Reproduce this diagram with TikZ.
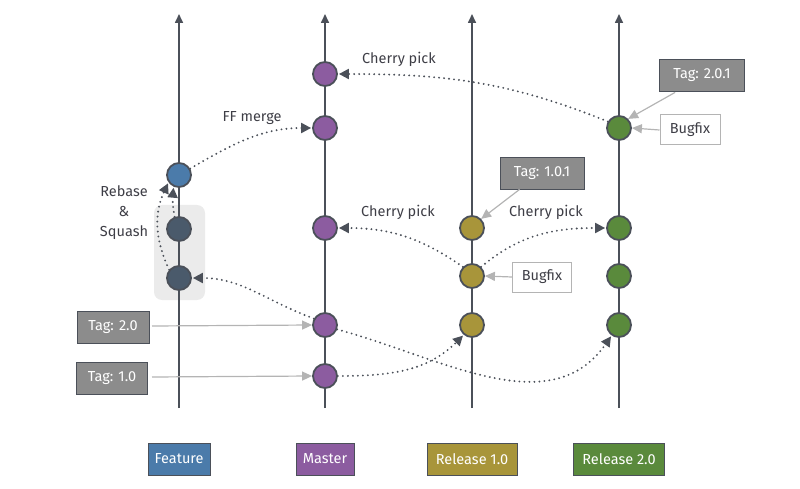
\documentclass[tikz,border=0pt]{standalone}
\usepackage{fontspec}
\setmainfont{Fira Sans}
\usetikzlibrary{arrows.meta}
\definecolor{linec}{HTML}{4B5059}
\definecolor{featc}{HTML}{4B7BAA}
\definecolor{darkc}{HTML}{4A5A6B}
\definecolor{purc}{HTML}{8C5CA0}
\definecolor{olc}{HTML}{A8953A}
\definecolor{grc}{HTML}{5A8A3C}
\definecolor{tagc}{HTML}{8C8C8C}
\definecolor{tagarr}{HTML}{B4B4B4}
\definecolor{txtc}{HTML}{3E3E46}
\tikzset{
  branchline/.style={draw=linec, line width=1.6pt, -{Triangle[length=9pt,width=8pt]}},
  commit/.style={circle, minimum size=24pt, inner sep=0pt, draw=linec, line width=1.8pt},
  blabel/.style={draw=linec, line width=1pt, text=white, minimum height=32pt, inner sep=0pt, font=\fontsize{14.5}{16}\selectfont},
  tagbox/.style={draw=linec, line width=0.8pt, fill=tagc, text=white, minimum height=32pt, inner sep=0pt, font=\fontsize{14.5}{16}\selectfont},
  notebox/.style={draw=tagarr, line width=1pt, fill=white, text=txtc, minimum height=30pt, inner sep=0pt, font=\fontsize{14.5}{16}\selectfont},
  tagarrow/.style={draw=tagarr, line width=1.2pt, -{Triangle[length=10pt,width=9pt]}},
  flow/.style={draw=linec, line width=2.1pt, line cap=round, dash pattern=on 0pt off 5pt, -{Triangle[length=10pt,width=10pt,line cap=butt]}, shorten >=1pt},
  note/.style={text=txtc, font=\fontsize{14.5}{16}\selectfont, inner sep=0pt, align=center},
}
\begin{document}
\begin{tikzpicture}[x=1pt,y=-1pt]
\useasboundingbox (0,0) rectangle (800,489);
% highlight
\fill[black!8, rounded corners=8pt] (154,205) rectangle (205,300);
% branch lines
\coordinate (fb) at (179,408); \coordinate (ft) at (179,14);
\coordinate (mb) at (325,408); \coordinate (mt) at (325,14);
\coordinate (ab) at (472,408); \coordinate (at1) at (472,14);
\coordinate (bb) at (619,408); \coordinate (bt) at (619,14);
\draw[branchline] (fb) -- (ft);
\draw[branchline] (mb) -- (mt);
\draw[branchline] (ab) -- (at1);
\draw[branchline] (bb) -- (bt);
% branch labels
\node[blabel, fill=featc, minimum width=62pt] (lf) at (179,459) {Feature};
\node[blabel, fill=purc, minimum width=58pt] (lm) at (325,459) {Master};
\node[blabel, fill=olc, minimum width=90pt] (la) at (472,459) {Release 1.0};
\node[blabel, fill=grc, minimum width=91pt] (lb) at (619,459) {Release 2.0};
% commits
\node[commit, fill=featc] (f1) at (179,175) {};
\node[commit, fill=darkc] (f2) at (179,229) {};
\node[commit, fill=darkc] (f3) at (179,278) {};
\node[commit, fill=purc] (m1) at (325,74) {};
\node[commit, fill=purc] (m2) at (325,128) {};
\node[commit, fill=purc] (m3) at (325,228) {};
\node[commit, fill=purc] (m4) at (325,325) {};
\node[commit, fill=purc] (m5) at (325,376) {};
\node[commit, fill=olc] (a1) at (472,228) {};
\node[commit, fill=olc] (a2) at (472,276) {};
\node[commit, fill=olc] (a3) at (472,325) {};
\node[commit, fill=grc] (b1) at (619,128) {};
\node[commit, fill=grc] (b2) at (619,228) {};
\node[commit, fill=grc] (b3) at (619,276) {};
\node[commit, fill=grc] (b4) at (619,325) {};
% tags
\node[tagbox, minimum width=72pt] (t20) at (113,327) {Tag: 2.0};
\node[tagbox, minimum width=71pt] (t10) at (112,378) {Tag: 1.0};
\node[tagbox, minimum width=84pt] (t101) at (542,173) {Tag: 1.0.1};
\node[tagbox, minimum width=85pt] (t201) at (702,75) {Tag: 2.0.1};
\node[notebox, minimum width=59pt] (bf1) at (542,277) {Bugfix};
\node[notebox, minimum width=60pt] (bf2) at (690,130) {Bugfix};
\coordinate (t20e) at (152,326);
\coordinate (t10e) at (152,377);
\draw[tagarrow] (t20e) -- (m4.west);
\draw[tagarrow] (t10e) -- (m5.west);
\draw[tagarrow] (t101.south west) ++(20,0) coordinate (t101s) -- (a1.north east);
\draw[tagarrow] (t201.south west) ++(16,1) coordinate (t201s) -- (b1.north east);
\draw[tagarrow] (bf1.west) -- (a2.east);
\draw[tagarrow] (bf2.west) -- (b1.east);
% flows
\draw[flow] (f1.30) to[out=30,in=180] (m2.west);
\draw[flow] (b1.150) to[out=158,in=0] (m1.east);
\draw[flow] (a2.135) to[out=145,in=0] (m3.east);
\draw[flow] (a2.45) to[out=40,in=180] (b2.west);
\draw[flow] (m4.-20) to[out=-15,in=235] (b4.-125);
\draw[flow] (m5.east) to[out=0,in=225] (a3.-130);
\draw[flow] (m4.150) to[out=160,in=0] (f3.east);
\draw[flow] (f3.140) to[out=115,in=245] (f1.-145);
\draw[flow] (f2.110) to[out=100,in=265] (f1.-115);
% labels
\node[note] (lff) at (252,118) {FF merge};
\node[note] (lcp1) at (399,59) {Cherry pick};
\node[note] (lcp2) at (398,212) {Cherry pick};
\node[note] (lcp3) at (546,212) {Cherry pick};
\node[note] (lrs) at (124,213) {Rebase\\[4pt]\&\\[4pt]Squash};
\end{tikzpicture}
\end{document}
